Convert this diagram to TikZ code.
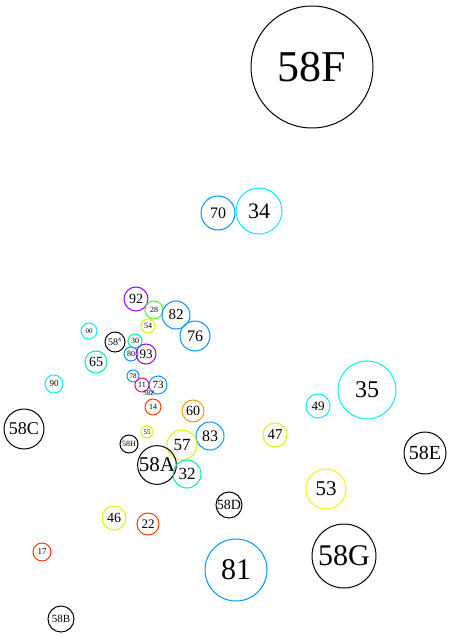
\documentclass[tikz,border=0pt]{standalone}
\usepackage{fontspec}
\setmainfont{Liberation Serif}
\usepackage{tikz}
\usetikzlibrary{shapes}
\definecolor{cyanc}{RGB}{0,238,255}
\definecolor{bleu}{RGB}{0,150,255}
\definecolor{violet}{RGB}{150,0,255}
\definecolor{vert}{RGB}{80,240,40}
\definecolor{jaunevert}{RGB}{204,255,0}
\definecolor{printemps}{RGB}{0,240,150}
\definecolor{rouge}{RGB}{255,60,0}
\definecolor{orange}{RGB}{255,150,0}
\definecolor{magenta}{RGB}{255,0,150}
\definecolor{jaune}{RGB}{255,240,0}
\newcommand{\taille}[1]{\fontsize{#1}{#1}\selectfont}
\tikzstyle{bulle}=[circle,draw,inner sep=0pt,line width=1pt,text=black]
\tikzstyle{etiq}=[inner sep=0pt,text=black]

\begin{document}
\begin{tikzpicture}[x=1pt,y=-1pt]
\useasboundingbox (0,0) rectangle (459,636);
\node[bulle,draw=black,minimum size=122pt,font=\taille{44}] (f) at (312,67) {58F};
\node[bulle,draw=bleu,minimum size=34pt,font=\taille{16}] (n70) at (218,213) {70};
\node[bulle,draw=cyanc,minimum size=46pt,font=\taille{22}] (n34) at (259,211) {34};
\node[bulle,draw=violet,minimum size=24pt,font=\taille{14}] (n92) at (136,299) {92};
\node[bulle,draw=vert,minimum size=18pt,font=\taille{8}] (n28) at (154,310) {28};
\node[bulle,draw=bleu,minimum size=28pt,font=\taille{15}] (n82) at (176,315) {82};
\node[bulle,draw=bleu,minimum size=30pt,font=\taille{16}] (n76) at (195,336) {76};
\node[bulle,draw=jaunevert,minimum size=14pt,font=\taille{8}] (n54) at (148,326) {54};
\node[bulle,draw=cyanc,minimum size=16pt,font=\taille{7}] (n00) at (89,331) {00};
\node[bulle,draw=black,minimum size=20pt,font=\taille{10}] (x) at (115,342) {58\textsuperscript{x}};
\node[bulle,draw=printemps,minimum size=14pt,font=\taille{8}] (n30) at (135,341) {30};
\node[bulle,draw=bleu,minimum size=14pt,font=\taille{8}] (n80) at (131,354) {80};
\node[bulle,draw=violet,minimum size=20pt,font=\taille{13}] (n93) at (146,354) {93};
\node[bulle,draw=printemps,minimum size=22pt,font=\taille{14}] (n65) at (96,362) {65};
\node[bulle,draw=bleu,minimum size=12pt,font=\taille{7}] (n78) at (133,376) {78};
\node[bulle,draw=magenta,minimum size=14pt,font=\taille{8}] (n11) at (142,385) {11};
\node[bulle,draw=bleu,minimum size=18pt,font=\taille{11}] (n73) at (158,385) {73};
\node[etiq,font=\taille{7}] (z) at (149,393) {58Z};
\node[bulle,draw=cyanc,minimum size=18pt,font=\taille{9}] (n90) at (54,384) {90};
\node[bulle,draw=rouge,minimum size=16pt,font=\taille{8}] (n14) at (153,407) {14};
\node[bulle,draw=orange,minimum size=22pt,font=\taille{14}] (n60) at (193,411) {60};
\node[bulle,draw=jaunevert,minimum size=12pt,font=\taille{7}] (n55) at (147,432) {55};
\node[bulle,draw=bleu,minimum size=28pt,font=\taille{16}] (n83) at (210,436) {83};
\node[bulle,draw=black,minimum size=18pt,font=\taille{8}] (h) at (129,444) {58H};
\node[bulle,draw=jaunevert,minimum size=30pt,font=\taille{17}] (n57) at (182,445) {57};
\node[bulle,draw=black,minimum size=36pt,font=\taille{21}] (a) at (157,465) {58A};
\node[bulle,draw=printemps,minimum size=28pt,font=\taille{17}] (n32) at (187,474) {32};
\node[bulle,draw=black,minimum size=40pt,font=\taille{18}] (c) at (24,429) {58C};
\node[bulle,draw=cyanc,minimum size=58pt,font=\taille{24}] (n35) at (367,390) {35};
\node[bulle,draw=cyanc,minimum size=24pt,font=\taille{13}] (n49) at (318,406) {49};
\node[bulle,draw=jaunevert,minimum size=24pt,font=\taille{15}] (n47) at (275,435) {47};
\node[bulle,draw=black,minimum size=42pt,font=\taille{20}] (e) at (425,453) {58E};
\node[bulle,draw=jaune,minimum size=40pt,font=\taille{21}] (n53) at (326,489) {53};
\node[bulle,draw=black,minimum size=26pt,font=\taille{14}] (d) at (229,505) {58D};
\node[bulle,draw=jaunevert,minimum size=24pt,font=\taille{14}] (n46) at (114,518) {46};
\node[bulle,draw=rouge,minimum size=22pt,font=\taille{13}] (n22) at (148,524) {22};
\node[bulle,draw=rouge,minimum size=18pt,font=\taille{9}] (n17) at (42,552) {17};
\node[bulle,draw=bleu,minimum size=62pt,font=\taille{30}] (n81) at (236,570) {81};
\node[bulle,draw=black,minimum size=64pt,font=\taille{30}] (g) at (344,556) {58G};
\node[bulle,draw=black,minimum size=26pt,font=\taille{11}] (b) at (61,619) {58B};
\end{tikzpicture}
\end{document}
